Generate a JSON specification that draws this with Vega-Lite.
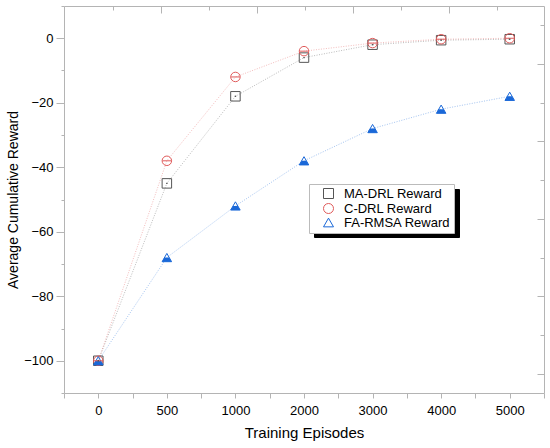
{
  "$schema": "https://vega.github.io/schema/vega-lite/v6.json",
  "width": 480,
  "height": 387,
  "autosize": {"type": "none"},
  "padding": {"left": 64, "top": 6, "right": 6, "bottom": 55},
  "background": "white",
  "config": {
    "view": {"stroke": null},
    "font": "Liberation Sans",
    "axis": {
      "domainColor": "#b4b4b4", "tickColor": "#b4b4b4", "grid": false,
      "labelFont": "Liberation Sans", "labelFontSize": 13, "labelColor": "#000",
      "titleFont": "Liberation Sans", "titleFontSize": 14, "titleFontWeight": "normal", "titleColor": "#000"
    }
  },
  "data": {
    "values": [
      {"step": 0, "episodes": "0", "series": "MA-DRL Reward", "reward": -100},
      {"step": 1, "episodes": "500", "series": "MA-DRL Reward", "reward": -45},
      {"step": 2, "episodes": "1000", "series": "MA-DRL Reward", "reward": -18},
      {"step": 3, "episodes": "2000", "series": "MA-DRL Reward", "reward": -6},
      {"step": 4, "episodes": "3000", "series": "MA-DRL Reward", "reward": -2},
      {"step": 5, "episodes": "4000", "series": "MA-DRL Reward", "reward": -0.6},
      {"step": 6, "episodes": "5000", "series": "MA-DRL Reward", "reward": -0.3},
      {"step": 0, "episodes": "0", "series": "C-DRL Reward", "reward": -100},
      {"step": 1, "episodes": "500", "series": "C-DRL Reward", "reward": -38},
      {"step": 2, "episodes": "1000", "series": "C-DRL Reward", "reward": -12},
      {"step": 3, "episodes": "2000", "series": "C-DRL Reward", "reward": -4},
      {"step": 4, "episodes": "3000", "series": "C-DRL Reward", "reward": -1.5},
      {"step": 5, "episodes": "4000", "series": "C-DRL Reward", "reward": -0.3},
      {"step": 6, "episodes": "5000", "series": "C-DRL Reward", "reward": 0},
      {"step": 0, "episodes": "0", "series": "FA-RMSA Reward", "reward": -100},
      {"step": 1, "episodes": "500", "series": "FA-RMSA Reward", "reward": -68},
      {"step": 2, "episodes": "1000", "series": "FA-RMSA Reward", "reward": -52},
      {"step": 3, "episodes": "2000", "series": "FA-RMSA Reward", "reward": -38},
      {"step": 4, "episodes": "3000", "series": "FA-RMSA Reward", "reward": -28},
      {"step": 5, "episodes": "4000", "series": "FA-RMSA Reward", "reward": -22},
      {"step": 6, "episodes": "5000", "series": "FA-RMSA Reward", "reward": -18}
    ]
  },
  "encoding": {
    "x": {"field": "step", "type": "quantitative", "scale": {"domain": [-0.5, 6.5], "nice": false, "zero": false}},
    "y": {"field": "reward", "type": "quantitative", "scale": {"domain": [-110, 10], "nice": false, "zero": false}}
  },
  "layer": [
    {
      "mark": {"type": "point", "filled": true, "size": 60, "opacity": 0},
      "encoding": {
        "x": {"field": "step", "type": "quantitative", "axis": null},
        "y": {"field": "reward", "type": "quantitative", "axis": null},
        "fill": {"field": "series", "type": "nominal", "title": null,
          "scale": {"domain": ["FA-RMSA Reward", "MA-DRL Reward", "C-DRL Reward"], "range": ["black", "black", "black"]},
          "legend": {"orient": "none", "legendX": 250, "legendY": 183, "fillColor": "black", "strokeColor": "black",
            "padding": 3, "labelFontSize": 13, "labelFont": "Liberation Sans", "labelColor": "black", "rowPadding": 0,
            "symbolOpacity": 1, "symbolType": "square", "symbolOffset": 10, "labelOffset": 9}}
      }
    },
    {
      "mark": {"type": "point", "filled": false, "strokeWidth": 1, "size": 90, "opacity": 1},
      "encoding": {
        "x": {"field": "step", "type": "quantitative",
          "axis": {"orient": "top", "title": null, "labels": false, "tickSize": {"condition": {"test": "indexof([0.917, 2.315, 3.713, 5.111], datum.value) >= 0", "value": -7}, "value": -4},
            "values": [0.218, 0.917, 1.616, 2.315, 3.014, 3.713, 4.412, 5.111, 5.81]}},
        "y": {"field": "reward", "type": "quantitative",
          "axis": {"orient": "right", "title": null, "labels": false, "tickSize": {"condition": {"test": "indexof([-8, -32, -56, -80, -104], datum.value) >= 0", "value": -7}, "value": -4},
            "values": [4, -8, -20, -32, -44, -56, -68, -80, -92, -104]}},
        "color": {"field": "series", "type": "nominal", "title": null,
          "scale": {"domain": ["MA-DRL Reward", "C-DRL Reward", "FA-RMSA Reward"], "range": ["#555555", "#e05a5a", "#1a68d8"]},
          "legend": {"orient": "none", "legendX": 245, "legendY": 178, "fillColor": "white", "strokeColor": "#bbbbbb",
            "padding": 3, "labelFontSize": 13, "labelFont": "Liberation Sans", "labelColor": "#000", "rowPadding": 0,
            "symbolStrokeWidth": 1, "symbolOpacity": 1, "symbolOffset": 10, "labelOffset": 9}},
        "shape": {"field": "series", "type": "nominal", "title": null,
          "scale": {"domain": ["MA-DRL Reward", "C-DRL Reward", "FA-RMSA Reward"], "range": ["square", "circle", "M0,-0.87L1,0.87L-1,0.87Z"]}}
      }
    },
    {
      "mark": {"type": "line", "strokeWidth": 1, "strokeDash": [1, 1.5], "opacity": 0.4},
      "encoding": {
        "x": {"field": "step", "type": "quantitative", "title": "Training Episodes",
          "axis": {"orient": "bottom", "values": [-0.5, 0, 0.5, 1, 1.5, 2, 2.5, 3, 3.5, 4, 4.5, 5, 5.5, 6, 6.5],
            "tickSize": 5, "labelPadding": 6, "titlePadding": 8, "titleFontSize": 15,
            "labelExpr": "datum.value % 1 == 0 && datum.value >= 0 ? ['0','500','1000','2000','3000','4000','5000'][datum.value] : ''"}},
        "y": {"field": "reward", "type": "quantitative", "title": "Average Cumulative Reward",
          "axis": {"orient": "left", "values": [-110, -100, -90, -80, -70, -60, -50, -40, -30, -20, -10, 0, 10],
            "tickSize": {"condition": {"test": "datum.value % 20 == 0", "value": 8}, "value": 3},
            "labelPadding": 3, "titlePadding": 3,
            "labelExpr": "datum.value % 20 == 0 && datum.value <= 0 && datum.value >= -100 ? datum.label : ''"}},
        "color": {"field": "series", "type": "nominal"}
      }
    },
    {
      "transform": [{"filter": "datum.series == 'FA-RMSA Reward'"}],
      "mark": {"type": "point", "filled": true, "size": 90, "color": "#1a68d8", "opacity": 1, "shape": "M-0.5,0L0.5,0L1,0.87L-1,0.87Z"},
      "encoding": {"x": {"field": "step", "type": "quantitative", "axis": null}, "y": {"field": "reward", "type": "quantitative", "axis": null}}
    },
    {
      "transform": [{"filter": "datum.series == 'C-DRL Reward'"}],
      "mark": {"type": "point", "filled": false, "size": 75, "color": "#e05a5a", "strokeWidth": 1, "opacity": 1, "shape": "M-1,0L1,0"},
      "encoding": {"x": {"field": "step", "type": "quantitative", "axis": null}, "y": {"field": "reward", "type": "quantitative", "axis": null}}
    },
    {
      "transform": [{"filter": "datum.series == 'MA-DRL Reward'"}],
      "mark": {"type": "point", "filled": true, "size": 2, "color": "#555555", "opacity": 1, "shape": "square"},
      "encoding": {"x": {"field": "step", "type": "quantitative", "axis": null}, "y": {"field": "reward", "type": "quantitative", "axis": null}}
    }
  ],
  "resolve": {"axis": {"x": "independent", "y": "independent"}}
}
